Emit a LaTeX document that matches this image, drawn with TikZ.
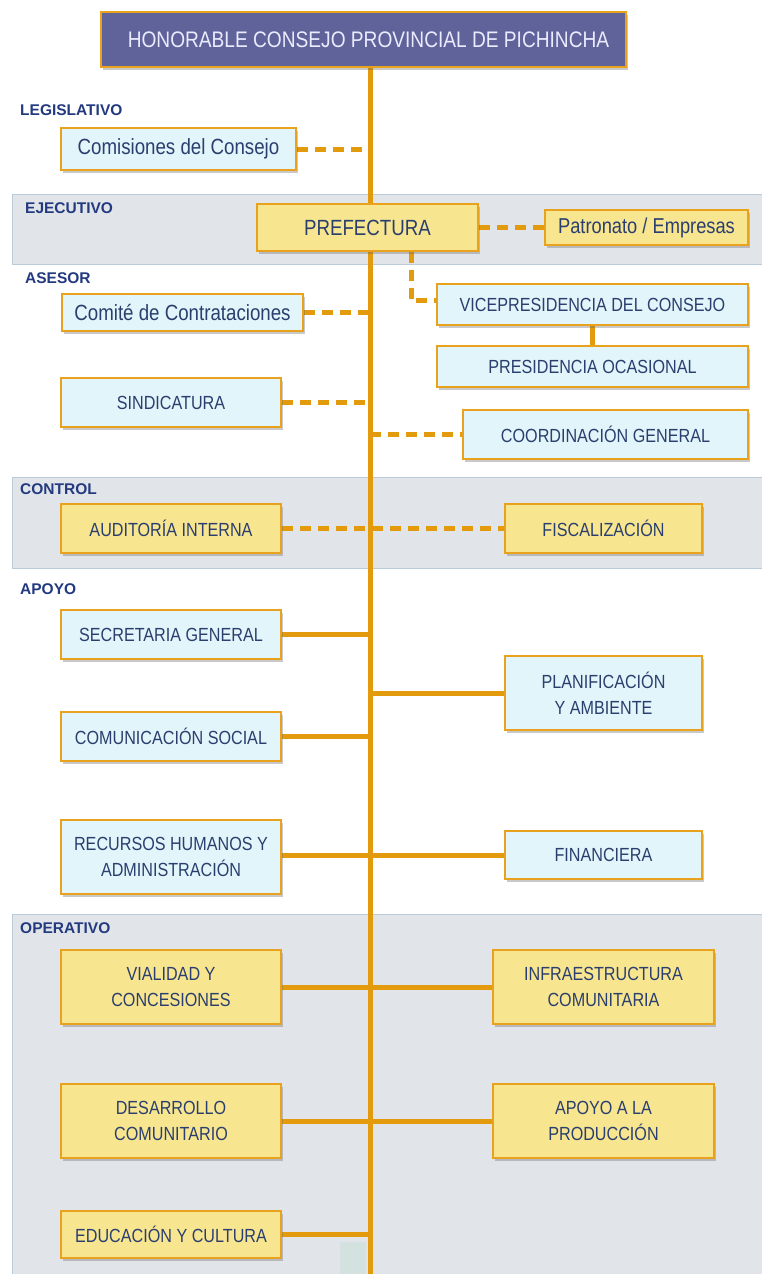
\documentclass[tikz,border=0pt]{standalone}
\usepackage{fontspec}
\setmainfont{Liberation Sans}[FakeStretch=0.85]
\newfontfamily\lblfont{Liberation Sans}
\usetikzlibrary{shadows}
\definecolor{orng}{HTML}{E39A0C}
\definecolor{bordr}{HTML}{E8A21E}
\definecolor{lblue}{HTML}{E2F5FB}
\definecolor{ylw}{HTML}{F8E590}
\definecolor{ttl}{HTML}{5F6399}
\definecolor{band}{HTML}{E1E5E9}
\definecolor{bandline}{HTML}{B9CCD8}
\definecolor{txtc}{HTML}{2A3F6E}
\definecolor{lblc}{HTML}{233A80}
\definecolor{patch}{HTML}{D3E2DE}
\pgfdeclarelayer{bg}
\pgfsetlayers{bg,main}
\tikzset{
  base/.style={draw=bordr, line width=1.8pt, inner sep=0pt, text=txtc, align=center,
    font=\fontsize{19}{26}\selectfont,
    drop shadow={shadow xshift=2pt, shadow yshift=-2.5pt, opacity=0.35, fill=black!60}},
  bluebox/.style={base, fill=lblue},
  yelbox/.style={base, fill=ylw},
  sect/.style={anchor=west, text=lblc, font=\lblfont\bfseries\fontsize{15.5}{17}\selectfont, inner sep=0pt},
  bandbox/.style={fill=band, draw=bandline, line width=1pt},
  solidcon/.style={draw=orng, line width=5pt},
  dashcon/.style={draw=orng, line width=5pt, dash pattern=on 11pt off 7pt},
}
\begin{document}
\begin{tikzpicture}[x=1pt, y=-1pt]
\useasboundingbox (0,0) rectangle (762,1274);
% bands
\begin{pgfonlayer}{bg}
\fill[white] (0,0) rectangle (762,1274);
\path[bandbox] (12,194) rectangle (775,264);
\path[bandbox] (12,477) rectangle (775,568);
\path[bandbox] (12,914) rectangle (775,1290);
\end{pgfonlayer}
% section labels
\node[sect] (lleg) at (20,110) {LEGISLATIVO};
\node[sect] (leje) at (25,208) {EJECUTIVO};
\node[sect] (lase) at (25,278) {ASESOR};
\node[sect] (lcon) at (20,489) {CONTROL};
\node[sect] (lapo) at (20,589) {APOYO};
\node[sect] (lope) at (20,928) {OPERATIVO};
% boxes
\node[base, fill=ttl, text=white!92!blue, minimum width=525pt, minimum height=55pt,
  font=\fontsize{22.5}{26}\selectfont] (title) at (363.5,39.5) {\hspace*{10pt}HONORABLE CONSEJO PROVINCIAL DE PICHINCHA};
\node[bluebox, minimum width=235pt, minimum height=42pt, font=\fontsize{22}{26}\selectfont] (comis) at (178.5,149) {Comisiones del Consejo};
\node[yelbox, minimum width=221pt, minimum height=47pt, font=\fontsize{22}{26}\selectfont] (pref) at (367.5,227.5) {PREFECTURA};
\node[yelbox, minimum width=203pt, minimum height=35pt, font=\fontsize{21.5}{26}\selectfont] (patr) at (646.5,227.5) {Patronato / Empresas};
\node[bluebox, minimum width=311pt, minimum height=41pt] (vice) at (592.5,304.5) {VICEPRESIDENCIA DEL CONSEJO};
\node[bluebox, minimum width=311pt, minimum height=41pt] (pres) at (592.5,366.5) {PRESIDENCIA OCASIONAL};
\node[bluebox, minimum width=241pt, minimum height=37pt, font=\fontsize{22}{26}\selectfont] (comite) at (182.5,312.5) {Comité de Contrataciones};
\node[bluebox, minimum width=220pt, minimum height=49pt] (sind) at (171,402.5) {SINDICATURA};
\node[bluebox, minimum width=285pt, minimum height=49pt] (coord) at (605.5,434.5) {COORDINACIÓN GENERAL};
\node[yelbox, minimum width=220pt, minimum height=49pt] (audit) at (171,528.5) {AUDITORÍA INTERNA};
\node[yelbox, minimum width=197pt, minimum height=49pt] (fisc) at (603.5,528.5) {FISCALIZACIÓN};
\node[bluebox, minimum width=220pt, minimum height=49pt] (secr) at (171,634.5) {SECRETARIA GENERAL};
\node[bluebox, minimum width=197pt, minimum height=74pt] (plan) at (603.5,693) {PLANIFICACIÓN\\Y AMBIENTE};
\node[bluebox, minimum width=220pt, minimum height=49pt] (comu) at (171,736.5) {COMUNICACIÓN SOCIAL};
\node[bluebox, minimum width=220pt, minimum height=74pt] (recu) at (171,857) {RECURSOS HUMANOS Y\\ADMINISTRACIÓN};
\node[bluebox, minimum width=197pt, minimum height=48pt] (fina) at (603.5,855) {FINANCIERA};
\node[yelbox, minimum width=220pt, minimum height=74pt] (vial) at (171,987) {VIALIDAD Y\\CONCESIONES};
\node[yelbox, minimum width=221pt, minimum height=74pt] (infr) at (603.5,987) {INFRAESTRUCTURA\\COMUNITARIA};
\node[yelbox, minimum width=220pt, minimum height=74pt] (desa) at (171,1121) {DESARROLLO\\COMUNITARIO};
\node[yelbox, minimum width=221pt, minimum height=74pt] (apoy) at (603.5,1121) {APOYO A LA\\PRODUCCIÓN};
\node[yelbox, minimum width=220pt, minimum height=47pt] (educ) at (171,1234.5) {EDUCACIÓN Y CULTURA};
% spine and connectors
\coordinate (sp) at (370,0);
\coordinate (spbot) at (370,1274);
\coordinate (vx) at (411,0);
\begin{pgfonlayer}{bg}
\path[solidcon] (title.south -| sp) -- (spbot);
\path[dashcon] (comis.east) -- (comis.east -| sp);
\path[dashcon] (pref.east) -- (patr.west);
\path[dashcon] (pref.south -| vx) |- ([yshift=4pt]vice.west);
\path[solidcon] (vice.south) -- (pres.north);
\path[dashcon] (comite.east) -- (comite.east -| sp);
\path[dashcon] (sind.east) -- (sind.east -| sp);
\path[dashcon] (coord.west -| sp) -- (coord.west);
\path[dashcon] (audit.east) -- (fisc.west);
\path[solidcon] (secr.east) -- (secr.east -| sp);
\path[solidcon] (plan.west -| sp) -- (plan.west);
\path[solidcon] (comu.east) -- (comu.east -| sp);
\path[solidcon] (recu.east |- fina.west) -- (fina.west);
\path[solidcon] (vial.east) -- (infr.west);
\path[solidcon] (desa.east) -- (apoy.west);
\path[solidcon] (educ.east) -- (educ.east -| sp);
\end{pgfonlayer}
\fill[patch] (340,1242) rectangle (366,1274);
\end{tikzpicture}
\end{document}
